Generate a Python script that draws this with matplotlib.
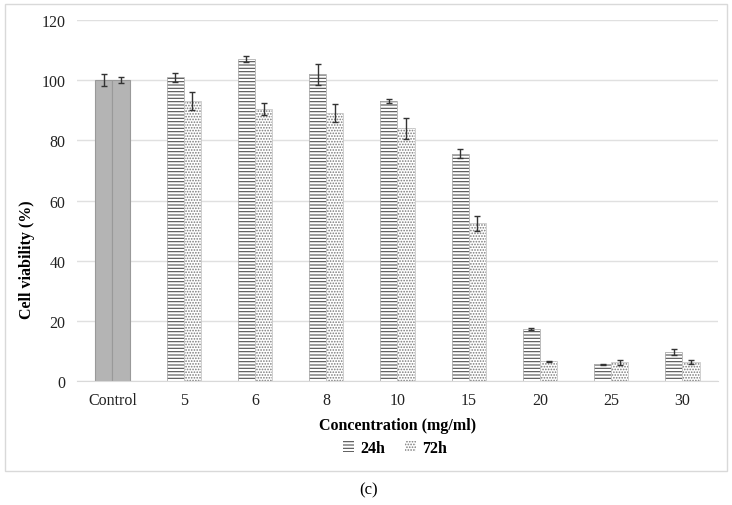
import matplotlib
matplotlib.use("Agg")
import matplotlib.pyplot as plt
import numpy as np
from matplotlib.patches import Rectangle, Patch

plt.rcParams['font.family'] = ['Liberation Serif', 'DejaVu Serif']
plt.rcParams['hatch.linewidth'] = 0.8

categories = ["Control", "5", "6", "8", "10", "15", "20", "25", "30"]
vals_24h = [100, 101, 107, 102, 93, 75.5, 17.3, 5.5, 9.5]
err_24h = [2, 1.5, 1, 3.5, 0.7, 1.5, 0.3, 0.3, 1.0]
vals_72h = [100, 93, 90.5, 89, 84, 52.5, 6.5, 6.2, 6.3]
err_72h = [1, 3, 2, 3, 3.5, 2.5, 0.3, 0.8, 0.7]
yticks = [0, 20, 40, 60, 80, 100, 120]

fig = plt.figure(figsize=(7.32, 5.06), dpi=100)
ax = fig.add_axes([0.105, 0.245, 0.876, 0.7135])

x = np.arange(len(categories))
w = 0.24
hatch_edge = '#505050'
dot_edge = '#7a7a7a'
for i in range(len(categories)):
    if i == 0:
        ax.bar(x[i] - w/2, vals_24h[i], w, color='#b4b4b4', edgecolor='#999999', linewidth=0.8, zorder=2)
        ax.bar(x[i] + w/2, vals_72h[i], w, color='#b4b4b4', edgecolor='#999999', linewidth=0.8, zorder=2)
    else:
        ax.bar(x[i] - w/2, vals_24h[i], w, color='white', edgecolor=hatch_edge, hatch='-----', linewidth=0, zorder=2)
        ax.bar(x[i] + w/2, vals_72h[i], w, color='white', edgecolor=dot_edge, hatch='......', linewidth=0, zorder=2)
        ax.bar(x[i] - w/2, vals_24h[i], w, fill=False, edgecolor='#b0b0b0', linewidth=0.6, zorder=2.5)
        ax.bar(x[i] + w/2, vals_72h[i], w, fill=False, edgecolor='#c8c8c8', linewidth=0.6, zorder=2.5)

ax.errorbar(x - w/2, vals_24h, yerr=err_24h, fmt='none', ecolor='#333333', elinewidth=1, capsize=2.5, capthick=1, zorder=3)
ax.errorbar(x + w/2, vals_72h, yerr=err_72h, fmt='none', ecolor='#333333', elinewidth=1, capsize=2.5, capthick=1, zorder=3)

ax.set_ylim(0, 120)
ax.set_xlim(-0.5, len(categories) - 0.5)
ax.set_yticks(yticks)
ax.set_xticks(x)
ax.set_xticklabels(categories)
ax.tick_params(axis='both', length=0, labelsize=11.5, colors='#222222', pad=8)
ax.yaxis.grid(True, color='#e0e0e0', linewidth=1, zorder=0)
ax.set_axisbelow(True)
for s in ['top', 'right', 'left']:
    ax.spines[s].set_visible(False)
ax.spines['bottom'].set_color('#d9d9d9')
ax.set_xlabel('Concentration (mg/ml)', fontsize=11.5, fontweight='bold', labelpad=6.5)
ax.set_ylabel('Cell viability (%)', fontsize=11.5, fontweight='bold')
ax.yaxis.set_label_coords(-0.066, 0.34)

handles = [Patch(facecolor='white', edgecolor=hatch_edge, hatch='-----', linewidth=0, label='24h'),
           Patch(facecolor='white', edgecolor=dot_edge, hatch='......', linewidth=0, label='72h')]
leg = fig.legend(handles=handles, loc='center', bbox_to_anchor=(0.54, 0.113), ncol=2, frameon=False,
                 prop={'weight': 'bold', 'size': 11.5}, handlelength=0.7, handleheight=0.7,
                 handletextpad=0.4, columnspacing=1.2)

fig.patches.append(Rectangle((0.007, 0.067), 0.986, 0.924, transform=fig.transFigure,
                             fill=False, edgecolor='#d9d9d9', linewidth=1))
fig.text(0.503, 0.03, '(c)', ha='center', va='center', fontsize=12)

fig.savefig('out.png', dpi=100)
